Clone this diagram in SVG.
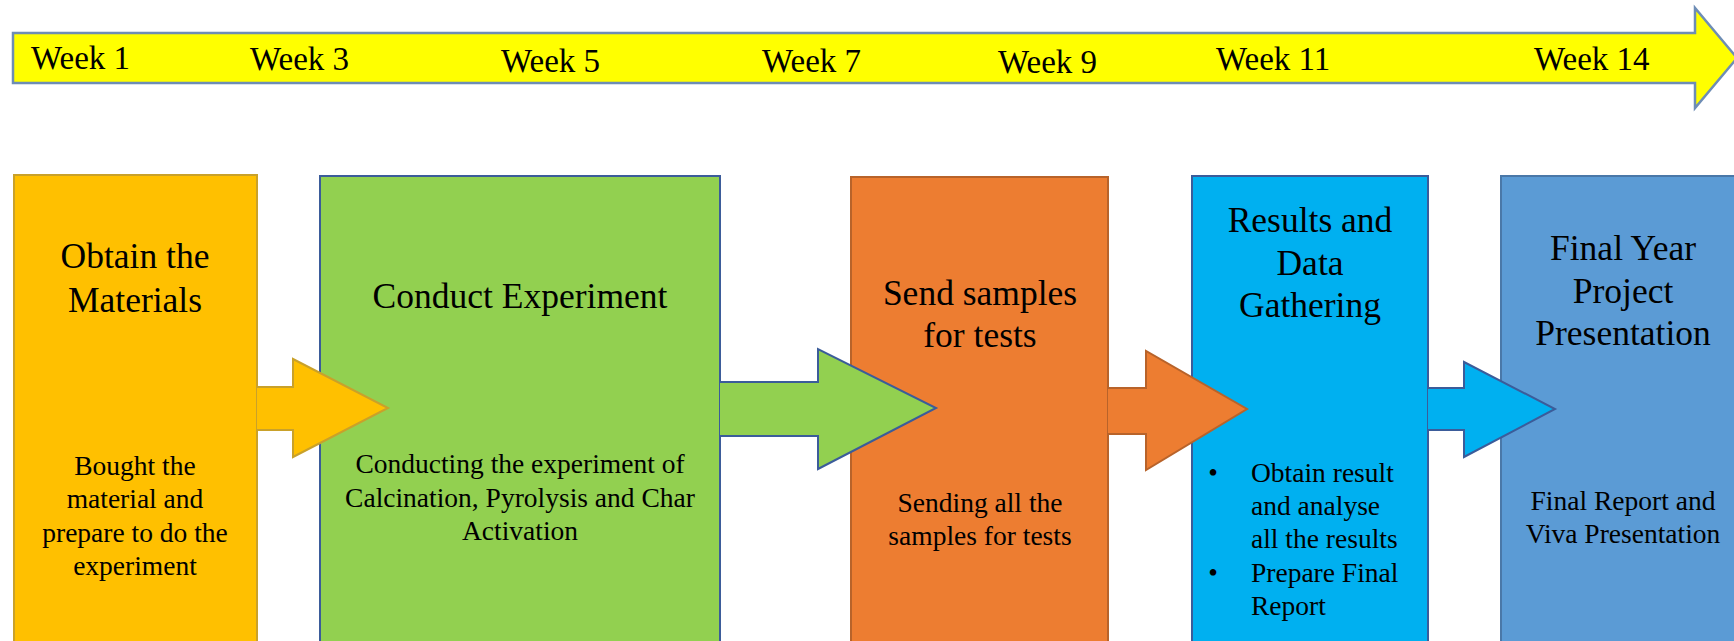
<svg xmlns="http://www.w3.org/2000/svg" width="1734" height="641" viewBox="0 0 1734 641">
<style>
text{font-family:"Liberation Serif","Times New Roman",serif;fill:#000;text-anchor:middle}
.wk{font-size:33px;text-anchor:start}
.h{font-size:35.5px}
.b{font-size:27.5px}
.l{text-anchor:start}
.bx{stroke-width:2}
</style>
<rect width="1734" height="641" fill="#fff"/>
<g id="timeline">
<path d="M13,33 H1695 V8 L1737,58 L1695,108 V83 H13 Z" fill="#FFFF00" stroke="#6E8DB5" stroke-width="2.5"/>
<text class="wk" x="31" y="69">Week 1</text>
<text class="wk" x="250" y="70">Week 3</text>
<text class="wk" x="501" y="72">Week 5</text>
<text class="wk" x="762" y="72">Week 7</text>
<text class="wk" x="998" y="73">Week 9</text>
<text class="wk" x="1216" y="70">Week 11</text>
<text class="wk" x="1534" y="70">Week 14</text>
</g>
<g id="n1">
<rect class="bx" x="14" y="175" width="243" height="480" fill="#FFC000" stroke="#C9A12A"/>
<text class="h" x="135" y="268">Obtain the</text>
<text class="h" x="135" y="312">Materials</text>
<text class="b" x="135" y="475">Bought the</text>
<text class="b" x="135" y="508">material and</text>
<text class="b" x="135" y="542">prepare to do the</text>
<text class="b" x="135" y="575">experiment</text>
</g>
<g id="n2">
<rect class="bx" x="320" y="176" width="400" height="480" fill="#92D050" stroke="#3B5C9A"/>
<text class="h" x="520" y="308">Conduct Experiment</text>
<text class="b" x="520" y="473">Conducting the experiment of</text>
<text class="b" x="520" y="507">Calcination, Pyrolysis and Char</text>
<text class="b" x="520" y="540">Activation</text>
</g>
<g id="n3">
<rect class="bx" x="851" y="177" width="257" height="480" fill="#ED7D31" stroke="#B8632A"/>
<text class="h" x="980" y="305">Send samples</text>
<text class="h" x="980" y="347">for tests</text>
<text class="b" x="980" y="512">Sending all the</text>
<text class="b" x="980" y="545">samples for tests</text>
</g>
<g id="n4">
<rect class="bx" x="1192" y="176" width="236" height="480" fill="#00B0F0" stroke="#3B5C9A"/>
<text class="h" x="1310" y="232">Results and</text>
<text class="h" x="1310" y="275">Data</text>
<text class="h" x="1310" y="317">Gathering</text>
<text class="b" x="1213" y="482">•</text>
<text class="b l" x="1251" y="482">Obtain result</text>
<text class="b l" x="1251" y="515">and analyse</text>
<text class="b l" x="1251" y="548">all the results</text>
<text class="b" x="1213" y="582">•</text>
<text class="b l" x="1251" y="582">Prepare Final</text>
<text class="b l" x="1251" y="615">Report</text>
</g>
<g id="n5">
<rect class="bx" x="1501" y="176" width="240" height="480" fill="#5B9BD5" stroke="#4A78A8"/>
<text class="h" x="1623" y="260">Final Year</text>
<text class="h" x="1623" y="303">Project</text>
<text class="h" x="1623" y="345">Presentation</text>
<text class="b" x="1623" y="510">Final Report and</text>
<text class="b" x="1623" y="543">Viva Presentation</text>
</g>
<g id="connectors" stroke-width="2">
<path d="M257,387 H293 V359 L388,408 L293,457 V430 H257" fill="#FFC000" stroke="#C9A12A"/>
<path d="M720,382 H818 V349 L936,408 L818,469 V436 H720" fill="#92D050" stroke="#3B5C9A"/>
<path d="M1108,388 H1146 V351 L1247,409 L1146,470 V434 H1108" fill="#ED7D31" stroke="#B8632A"/>
<path d="M1428,388 H1464 V362 L1555,409 L1464,457 V430 H1428" fill="#00B0F0" stroke="#3B5C9A"/>
</g>
</svg>
